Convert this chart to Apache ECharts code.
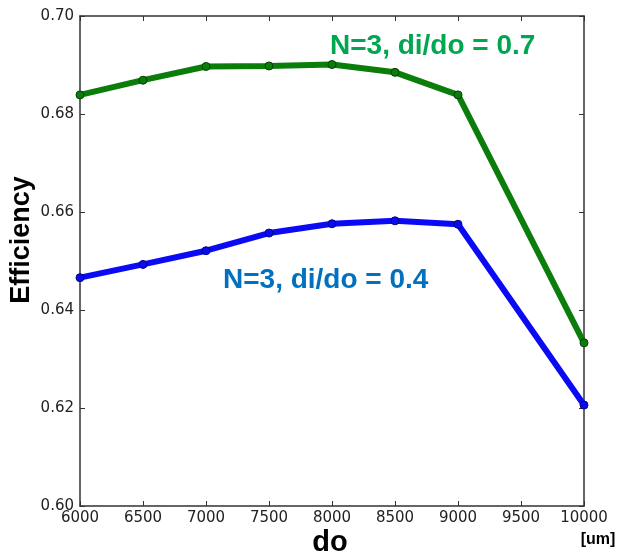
<!DOCTYPE html>
<html>
<head>
<meta charset="utf-8">
<script src="https://cdn.jsdelivr.net/npm/echarts@6/dist/echarts.min.js"></script>
<style>
  html, body { margin: 0; padding: 0; background: #fff; }
  #main { width: 622px; height: 557px; }
</style>
</head>
<body>
<div id="main"></div>
<script>
    // data
    var doValues = [6000, 6500, 7000, 7500, 8000, 8500, 9000, 10000];
    var eff07 = [0.6839, 0.6869, 0.6897, 0.6898, 0.6901, 0.6885, 0.6839, 0.6333];
    var eff04 = [0.6466, 0.6493, 0.6521, 0.6557, 0.6576, 0.6582, 0.6575, 0.6206];
    var label07 = 'N=3, di/do = 0.7';
    var label04 = 'N=3, di/do = 0.4';

    function pairs(xs, ys) {
        return xs.map(function(x, i){ return [x, ys[i]]; });
    }

    var chart = echarts.init(document.getElementById('main'));
    var tickFont = { fontFamily: 'DejaVu Sans', fontSize: 15, color: '#222' };
    var option = {
        animation: false,
        grid: { left: 80, right: 38, top: 16, bottom: 51 },
        xAxis: [
            {
                type: 'value', min: 6000, max: 10000, interval: 500,
                axisLine: { lineStyle: { color: '#333', width: 1.5 } },
                axisTick: { inside: true, length: 5, lineStyle: { color: '#333' } },
                axisLabel: Object.assign({ margin: 5, formatter: function(v){ return String(v); } }, tickFont),
                splitLine: { show: false }
            },
            {
                type: 'value', min: 6000, max: 10000, interval: 500, position: 'top',
                axisLine: { lineStyle: { color: '#333', width: 1.5 } },
                axisTick: { inside: true, length: 5, lineStyle: { color: '#333' } },
                axisLabel: { show: false },
                splitLine: { show: false }
            }
        ],
        yAxis: [
            {
                type: 'value', min: 0.60, max: 0.70, interval: 0.02,
                axisLine: { show: true, lineStyle: { color: '#333', width: 1.5 } },
                axisTick: { show: true, inside: true, length: 5, lineStyle: { color: '#333' } },
                axisLabel: Object.assign({ margin: 6, formatter: function(v){ return v.toFixed(2); } }, tickFont),
                splitLine: { show: false }
            },
            {
                type: 'value', min: 0.60, max: 0.70, interval: 0.02, position: 'right',
                axisLine: { show: true, lineStyle: { color: '#333', width: 1.5 } },
                axisTick: { show: true, inside: true, length: 5, lineStyle: { color: '#333' } },
                axisLabel: { show: false },
                splitLine: { show: false }
            }
        ],
        series: [
            {
                name: label07, type: 'line', data: pairs(doValues, eff07),
                symbol: 'circle', symbolSize: 8,
                lineStyle: { color: '#0a7d0a', width: 6 },
                itemStyle: { color: '#0a7d0a', borderColor: '#063d06', borderWidth: 1 },
                z: 3
            },
            {
                name: label04, type: 'line', data: pairs(doValues, eff04),
                symbol: 'circle', symbolSize: 8,
                lineStyle: { color: '#0a0af5', width: 6 },
                itemStyle: { color: '#0a0af5', borderColor: '#06067a', borderWidth: 1 },
                z: 3
            }
        ],
        graphic: [
            {
                type: 'text', left: 330, top: 32,
                style: { text: label07, fill: '#00a650', font: 'bold 28px "Liberation Sans", Arial' }
            },
            {
                type: 'text', left: 223, top: 266,
                style: { text: label04, fill: '#0070c0', font: 'bold 28px "Liberation Sans", Arial' }
            },
            {
                type: 'text', x: 22, y: 240, rotation: Math.PI / 2,
                style: { text: 'Efficiency', fill: '#000', font: 'bold 27px "Liberation Sans", Arial', align: 'center', verticalAlign: 'middle' }
            },
            {
                type: 'text', x: 330, y: 543,
                style: { text: 'do', fill: '#000', font: 'bold 29px "Liberation Sans", Arial', align: 'center', verticalAlign: 'middle' }
            },
            {
                type: 'text', x: 598, y: 540,
                style: { text: '[um]', fill: '#000', font: 'bold 16px "Liberation Sans", Arial', align: 'center', verticalAlign: 'middle' }
            }
        ]
    };
    chart.setOption(option);
</script>
</body>
</html>
